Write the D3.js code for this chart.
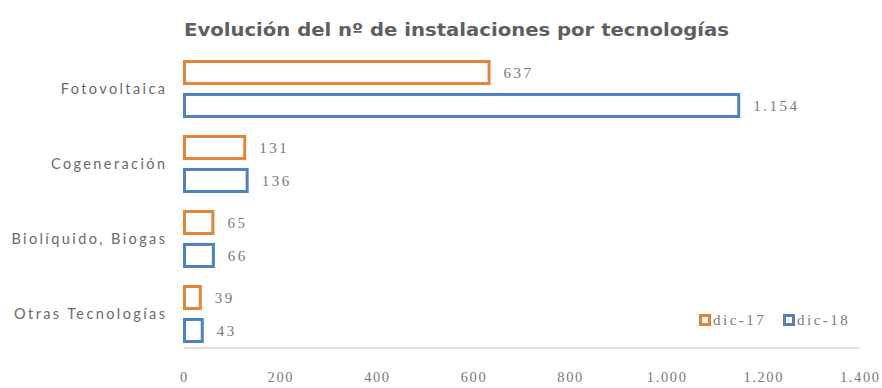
<!DOCTYPE html>
<html>
<head>
<meta charset="utf-8">
<script src="https://cdn.jsdelivr.net/npm/d3@7"></script>
<style>
  html, body { margin: 0; padding: 0; background: #ffffff; }
  svg { display: block; }
</style>
</head>
<body>
<svg id="chart" width="882" height="388"></svg>
<script>
// Installations per technology, December 2017 vs December 2018
const categories = ["Fotovoltaica", "Cogeneración", "Biolíquido, Biogas", "Otras Tecnologías"];
const seriesNames = ["dic-17", "dic-18"];
const dic17 = [637, 131, 65, 39];
const dic18 = [1154, 136, 66, 43];
const tickValues = [0, 200, 400, 600, 800, 1000, 1200, 1400];
const title = "Evolución del nº de instalaciones por tecnologías";

const colors = { "dic-17": "#E48437", "dic-18": "#4F81BD" };
const valuesBySeries = { "dic-17": dic17, "dic-18": dic18 };

const esLocale = d3.formatLocale({ decimal: ",", thousands: ".", grouping: [3], currency: ["", " €"] });
const fmt = esLocale.format(",d");

// shared style for numeric labels
const numFont = "Liberation Serif, serif";
const numSize = 15;
const numSpacing = 2.5;
const numColor = "#7a7a7a";

const svg = d3.select("#chart");

const x = d3.scaleLinear().domain([0, 1400]).range([183, 859]);

const y = d3.scaleBand()
  .domain(categories)
  .range([51.5, 351.5])
  .paddingInner(0.227)
  .paddingOuter(0.1135);

const ySub = d3.scaleBand()
  .domain(seriesNames)
  .range([0, y.bandwidth()])
  .paddingInner(0.24);

// Title
svg.append("text")
  .attr("x", 184)
  .attr("y", 36)
  .attr("font-family", "DejaVu Sans, sans-serif")
  .attr("font-weight", "bold")
  .attr("font-size", 17)
  .attr("fill", "#5f5f5f")
  .attr("textLength", 545)
  .attr("lengthAdjust", "spacingAndGlyphs")
  .text(title);

// Bottom axis
const tickSpacing = 1.6;
const axis = svg.append("g")
  .attr("transform", `translate(0, 347.5)`)
  .call(d3.axisBottom(x).tickValues(tickValues).tickFormat(fmt).tickSize(0).tickPadding(24));
axis.select(".domain").attr("stroke", "#d9d9d9").attr("stroke-width", 1.5);
axis.selectAll("text")
  .attr("font-family", numFont)
  .attr("font-size", 14.5)
  .attr("letter-spacing", tickSpacing)
  .attr("dx", tickSpacing / 2)
  .attr("fill", numColor);

// Category labels
const catSpacing = 2.4;
svg.append("g")
  .selectAll("text")
  .data(categories)
  .join("text")
  .attr("x", 165 + catSpacing)
  .attr("y", d => y(d) + y.bandwidth() / 2)
  .attr("dy", "0.35em")
  .attr("text-anchor", "end")
  .attr("font-family", "Lato, sans-serif")
  .attr("font-size", 14.5)
  .attr("letter-spacing", catSpacing)
  .attr("fill", "#6a6a6a")
  .text(d => d);

// Bars
const rows = [];
categories.forEach((c, i) => {
  seriesNames.forEach(s => rows.push({ cat: c, series: s, value: valuesBySeries[s][i] }));
});

const sw = 3;
const bars = svg.append("g");
bars.selectAll("rect")
  .data(rows)
  .join("rect")
  .attr("x", x(0) + sw / 2)
  .attr("y", d => y(d.cat) + ySub(d.series) + sw / 2)
  .attr("width", d => x(d.value) - x(0) - sw)
  .attr("height", ySub.bandwidth() - sw)
  .attr("fill", "#ffffff")
  .attr("stroke", d => colors[d.series])
  .attr("stroke-width", sw);

// Value labels
bars.selectAll("text")
  .data(rows)
  .join("text")
  .attr("x", d => x(d.value) + 13)
  .attr("y", d => y(d.cat) + ySub(d.series) + ySub.bandwidth() / 2)
  .attr("dy", "0.35em")
  .attr("font-family", numFont)
  .attr("font-size", numSize)
  .attr("letter-spacing", numSpacing)
  .attr("fill", numColor)
  .text(d => fmt(d.value));

// Legend
const legendX = { "dic-17": 699, "dic-18": 783 };
const legend = svg.append("g")
  .selectAll("g")
  .data(seriesNames)
  .join("g")
  .attr("transform", d => `translate(${legendX[d]}, 320)`);
legend.append("rect")
  .attr("x", 1.5)
  .attr("y", -4.5)
  .attr("width", 9)
  .attr("height", 9)
  .attr("fill", "#ffffff")
  .attr("stroke", d => colors[d])
  .attr("stroke-width", 3);
legend.append("text")
  .attr("x", 14)
  .attr("y", 0)
  .attr("dy", "0.35em")
  .attr("font-family", numFont)
  .attr("font-size", numSize)
  .attr("letter-spacing", numSpacing)
  .attr("fill", numColor)
  .text(d => d);
</script>
</body>
</html>
